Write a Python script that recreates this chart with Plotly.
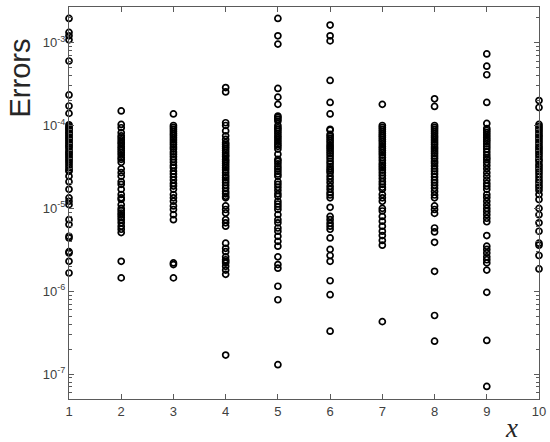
import plotly.graph_objects as go

# ---- data (errors per x) ----
x_values = [1, 2, 3, 4, 5, 6, 7, 8, 9, 10]

err_x1 = [1.96e-3, 1.33e-3, 1.21e-3, 1.08e-3, 6.0e-4, 2.34e-4, 1.72e-4, 1.40e-4,
          1.02e-4, 9.7e-5, 9.3e-5, 9.0e-5, 8.6e-5, 8.2e-5, 7.9e-5, 7.5e-5, 7.2e-5, 6.9e-5,
          6.6e-5, 6.3e-5, 6.0e-5, 5.7e-5, 5.5e-5, 5.2e-5, 4.9e-5, 4.7e-5, 4.5e-5, 4.3e-5,
          4.1e-5, 3.9e-5, 3.7e-5, 3.5e-5, 3.3e-5, 3.1e-5, 2.9e-5, 2.8e-5,
          2.45e-5, 2.1e-5, 1.7e-5, 1.34e-5, 1.22e-5, 1.11e-5, 7.3e-6, 6.4e-6, 4.6e-6,
          4.4e-6, 3.0e-6, 2.9e-6, 2.3e-6, 1.66e-6]
err_x2 = [1.5e-4, 1.03e-4, 9.4e-5, 8.2e-5, 7.5e-5, 7.1e-5, 6.7e-5, 6.3e-5, 6.0e-5, 5.6e-5,
          5.3e-5, 5.0e-5, 4.7e-5, 4.4e-5, 4.1e-5, 3.9e-5, 3.6e-5, 3.0e-5, 2.7e-5, 2.45e-5,
          2.1e-5, 1.95e-5, 1.7e-5, 1.47e-5, 1.34e-5, 1.28e-5, 1.11e-5, 1.0e-5, 9.4e-6,
          8.8e-6, 8.3e-6, 7.8e-6, 7.3e-6, 6.7e-6, 6.1e-6, 5.6e-6, 5.1e-6, 2.3e-6, 1.45e-6]
err_x3 = [1.38e-4, 1.0e-4, 9.5e-5, 9.0e-5, 8.5e-5, 8.0e-5, 7.6e-5, 7.1e-5, 6.7e-5, 6.3e-5,
          5.9e-5, 5.5e-5, 5.2e-5, 4.8e-5, 4.5e-5, 4.2e-5, 3.9e-5, 3.6e-5, 3.3e-5, 3.1e-5,
          2.8e-5, 2.6e-5, 2.4e-5, 2.2e-5, 2.0e-5, 1.86e-5, 1.7e-5, 1.47e-5, 1.34e-5,
          1.22e-5, 1.07e-5, 9.7e-6, 8.4e-6, 7.3e-6, 2.2e-6, 2.1e-6, 1.45e-6]
err_x4 = [2.87e-4, 2.54e-4, 1.08e-4, 1.0e-4, 8.6e-5, 7.5e-5, 6.8e-5, 6.2e-5, 5.9e-5, 5.6e-5,
          5.3e-5, 5.0e-5, 4.7e-5, 4.4e-5, 4.2e-5, 3.9e-5, 3.7e-5, 3.5e-5, 3.3e-5, 3.1e-5,
          2.9e-5, 2.7e-5, 2.5e-5, 2.35e-5, 2.2e-5, 2.05e-5, 1.9e-5, 1.75e-5, 1.6e-5, 1.5e-5,
          1.4e-5, 1.34e-5, 1.07e-5, 9.7e-6, 8.8e-6, 7.3e-6, 6.7e-6, 6.1e-6, 3.8e-6, 3.3e-6,
          3.0e-6, 2.6e-6, 2.4e-6, 2.3e-6, 2.2e-6, 2.0e-6, 1.8e-6, 1.6e-6, 1.7e-7]
err_x5 = [1.96e-3, 1.21e-3, 9.6e-4, 2.8e-4, 2.2e-4, 1.8e-4, 1.3e-4, 1.25e-4, 1.19e-4,
          1.13e-4, 1.0e-4, 9.4e-5, 9.0e-5, 8.5e-5, 8.0e-5, 7.5e-5, 7.1e-5, 6.7e-5, 6.3e-5,
          5.9e-5, 5.6e-5, 5.2e-5, 4.5e-5, 3.9e-5, 3.7e-5, 3.45e-5, 3.2e-5, 3.0e-5, 2.8e-5,
          2.6e-5, 2.45e-5, 2.1e-5, 1.95e-5, 1.8e-5, 1.65e-5, 1.5e-5, 1.4e-5, 1.22e-5,
          1.13e-5, 1.05e-5, 9.7e-6, 8.4e-6, 7.3e-6, 6.7e-6, 5.8e-6, 5.3e-6, 4.6e-6, 4.0e-6,
          3.5e-6, 2.6e-6, 2.1e-6, 1.9e-6, 1.15e-6, 7.9e-7, 1.3e-7]
err_x6 = [1.63e-3, 1.21e-3, 1.05e-3, 3.5e-4, 1.9e-4, 1.38e-4, 9.0e-5, 8.8e-5, 7.8e-5, 7.4e-5,
          7.0e-5, 6.6e-5, 6.2e-5, 5.8e-5, 5.5e-5, 5.2e-5, 4.9e-5, 4.6e-5, 4.3e-5, 4.0e-5,
          3.7e-5, 3.45e-5, 3.2e-5, 3.0e-5, 2.85e-5, 2.7e-5, 2.45e-5, 2.25e-5, 2.05e-5,
          1.85e-5, 1.7e-5, 1.55e-5, 1.45e-5, 1.34e-5, 1.03e-5, 8.0e-6, 7.3e-6, 6.6e-6,
          6.1e-6, 5.6e-6, 4.4e-6, 3.2e-6, 2.7e-6, 2.3e-6, 1.34e-6, 9.1e-7, 3.3e-7]
err_x7 = [1.8e-4, 1.0e-4, 9.5e-5, 9.0e-5, 8.5e-5, 8.0e-5, 7.6e-5, 7.2e-5, 6.8e-5, 6.4e-5,
          6.0e-5, 5.6e-5, 5.3e-5, 5.0e-5, 4.7e-5, 4.4e-5, 4.1e-5, 3.8e-5, 3.5e-5, 3.3e-5,
          3.1e-5, 2.9e-5, 2.7e-5, 2.5e-5, 2.3e-5, 2.1e-5, 1.95e-5, 1.8e-5, 1.7e-5, 1.47e-5,
          1.34e-5, 1.22e-5, 1.0e-5, 9.3e-6, 8.0e-6, 7.0e-6, 6.1e-6, 5.3e-6, 4.7e-6, 4.1e-6,
          3.6e-6, 4.3e-7]
err_x8 = [2.1e-4, 1.7e-4, 1.0e-4, 9.5e-5, 9.0e-5, 8.5e-5, 8.0e-5, 7.5e-5, 7.1e-5, 6.7e-5,
          6.3e-5, 5.9e-5, 5.5e-5, 5.2e-5, 4.9e-5, 4.6e-5, 4.3e-5, 4.0e-5, 3.7e-5, 3.5e-5,
          3.25e-5, 3.0e-5, 2.8e-5, 2.6e-5, 2.4e-5, 2.2e-5, 2.05e-5, 1.9e-5, 1.75e-5, 1.6e-5,
          1.45e-5, 1.34e-5, 1.07e-5, 9.7e-6, 8.7e-6, 5.8e-6, 5.2e-6, 3.9e-6, 1.74e-6,
          5.1e-7, 2.5e-7]
err_x9 = [7.3e-4, 5.2e-4, 4.1e-4, 1.9e-4, 1.06e-4, 9.2e-5, 8.7e-5, 8.2e-5, 7.7e-5, 7.2e-5,
          6.8e-5, 6.4e-5, 6.0e-5, 5.6e-5, 5.2e-5, 4.8e-5, 4.4e-5, 4.1e-5, 3.9e-5, 3.6e-5,
          3.3e-5, 3.0e-5, 2.7e-5, 2.45e-5, 2.2e-5, 2.0e-5, 1.85e-5, 1.7e-5, 1.47e-5, 1.35e-5,
          1.22e-5, 1.1e-5, 1.0e-5, 9.2e-6, 8.4e-6, 7.6e-6, 6.9e-6, 4.7e-6, 3.5e-6, 3.2e-6,
          2.9e-6, 2.6e-6, 2.4e-6, 2.2e-6, 1.8e-6, 9.7e-7, 2.55e-7, 7.1e-8]
err_x10 = [2.0e-4, 1.65e-4, 1.03e-4, 9.7e-5, 9.2e-5, 8.7e-5, 8.2e-5, 7.7e-5, 7.3e-5, 6.9e-5,
           6.5e-5, 6.1e-5, 5.7e-5, 5.4e-5, 5.1e-5, 4.8e-5, 4.5e-5, 4.2e-5, 3.9e-5, 3.7e-5,
           3.4e-5, 3.2e-5, 3.0e-5, 2.8e-5, 2.6e-5, 2.4e-5, 2.2e-5, 2.05e-5, 1.9e-5, 1.78e-5,
           1.65e-5, 1.47e-5, 1.28e-5, 1.0e-5, 8.4e-6, 6.7e-6, 5.3e-6, 3.8e-6, 3.6e-6, 2.7e-6,
           1.86e-6]

errors = [err_x1, err_x2, err_x3, err_x4, err_x5, err_x6, err_x7, err_x8, err_x9, err_x10]

y_tick_vals = [1e-7, 1e-6, 1e-5, 1e-4, 1e-3]
y_tick_text = ["10<sup>-7</sup>", "10<sup>-6</sup>", "10<sup>-5</sup>",
               "10<sup>-4</sup>", "10<sup>-3</sup>"]
x_tick_vals = x_values

# ---- figure ----
xs, ys = [], []
for xv, col in zip(x_values, errors):
    xs += [xv] * len(col)
    ys += col

fig = go.Figure()
fig.add_trace(go.Scatter(
    x=xs, y=ys, mode="markers", cliponaxis=False,
    marker=dict(symbol="circle-open", size=6, color="black",
                line=dict(color="black", width=1.7)),
    showlegend=False,
))

minor_vals = [m * 10.0 ** e for e in range(-8, -2) for m in range(2, 10)]

axis_color = "#5a5a5a"
tick_font = dict(family="Liberation Sans, Arial, sans-serif", size=13, color="#404040")

PLOT_L, PLOT_R, PLOT_T, PLOT_B = 69, 539, 7, 399
W, H = 550, 442

fig.update_layout(
    template="none",
    width=W, height=H,
    margin=dict(l=PLOT_L, r=W - PLOT_R, t=PLOT_T, b=H - PLOT_B, autoexpand=False),
    paper_bgcolor="white", plot_bgcolor="white",
    xaxis=dict(
        range=[1, 10], tickvals=x_tick_vals, ticks="inside", ticklen=5,
        tickcolor=axis_color, showline=True, linecolor=axis_color, linewidth=1,
        mirror="ticks", showgrid=False, zeroline=False, tickfont=tick_font,
        automargin=False,
    ),
    yaxis=dict(
        type="log", range=[-7.3, -2.57], tickvals=y_tick_vals, ticktext=y_tick_text,
        ticks="inside", ticklen=5, tickcolor=axis_color, showline=True,
        linecolor=axis_color, linewidth=1, mirror="ticks", showgrid=False,
        zeroline=False, tickfont=tick_font, automargin=False,
        minor=dict(tickvals=minor_vals, ticks="inside", ticklen=3,
                   tickcolor=axis_color, showgrid=False),
    ),
    annotations=[
        dict(text="Errors", x=(19 - PLOT_L) / (PLOT_R - PLOT_L),
             y=(PLOT_B - 78.5) / (PLOT_B - PLOT_T), xref="paper", yref="paper",
             textangle=-90, showarrow=False, xanchor="center", yanchor="middle",
             font=dict(family="Liberation Sans, Arial, sans-serif", size=29, color="#262626")),
        dict(text="<i>x</i>", x=(511.7 - PLOT_L) / (PLOT_R - PLOT_L),
             y=(PLOT_B - 428) / (PLOT_B - PLOT_T), xref="paper", yref="paper",
             showarrow=False, xanchor="center", yanchor="middle",
             font=dict(family="Liberation Serif, DejaVu Serif, serif", size=27, color="#262626")),
    ],
)

fig.write_html("out.html", config={"displayModeBar": False},
               post_script="document.body.style.margin='0';")
